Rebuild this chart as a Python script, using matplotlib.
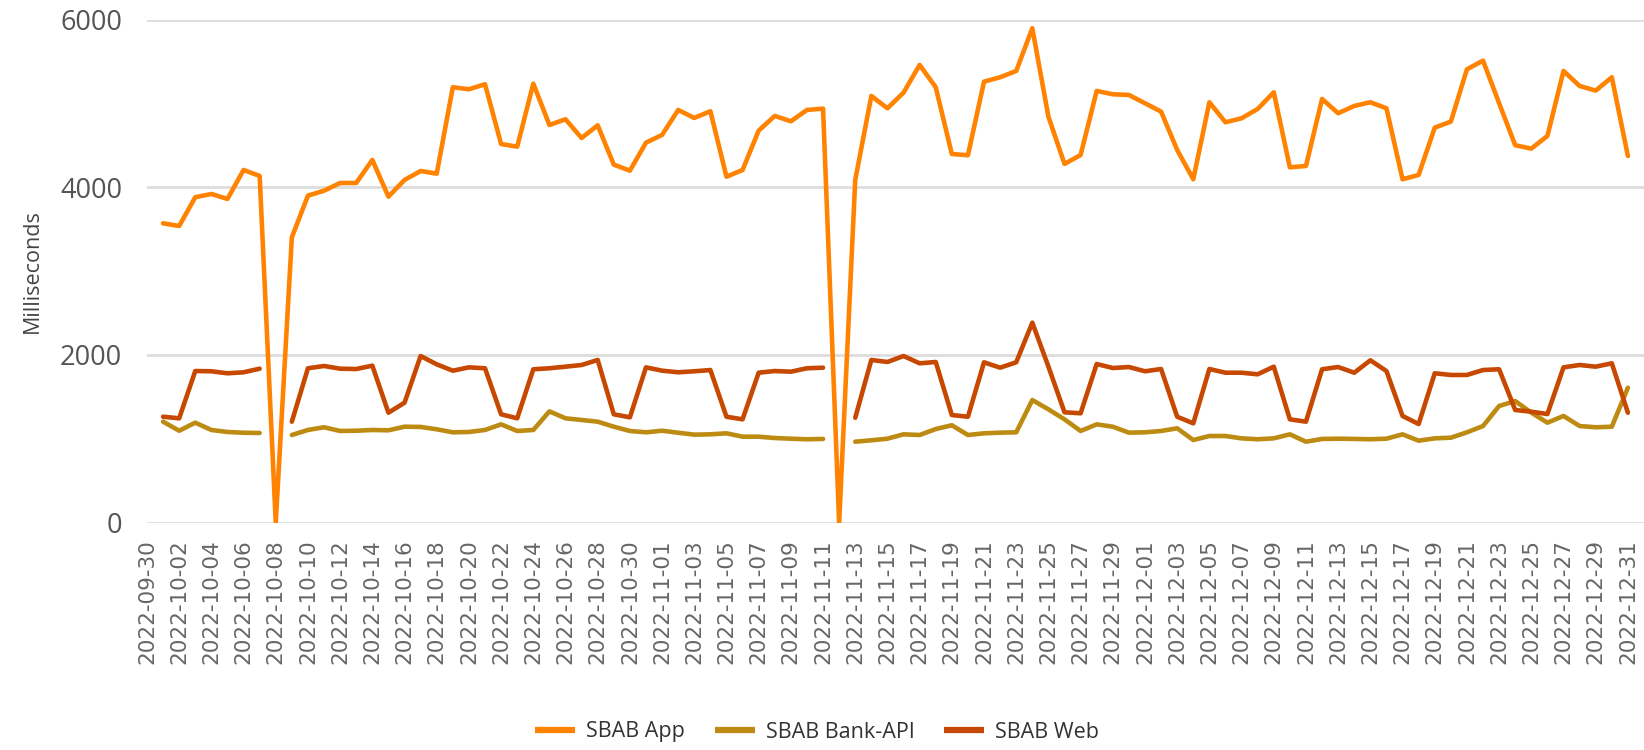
import numpy as np
import pandas as pd
import matplotlib
matplotlib.use("Agg")
import matplotlib.pyplot as plt

nan = np.nan

# daily response time, 2022-10-01 .. 2022-12-31
dates = pd.date_range("2022-10-01", "2022-12-31", freq="D")

app = [
    # oct
    3569, 3537, 3880, 3919, 3860, 4205, 4134, 0, 3402, 3899, 3958, 4050, 4050, 4325, 3887, 4086,
    4193, 4161, 5192, 5168, 5228, 4515, 4483, 5235, 4742, 4810, 4587, 4738, 4269, 4197, 4531,
    # nov
    4623, 4921, 4826, 4906, 4125, 4205, 4674, 4850, 4786, 4921, 4937, 0, 4086, 5088, 4941,
    5128, 5458, 5192, 4396, 4381, 5259, 5311, 5386, 5896, 4841, 4277, 4384, 5148, 5108, 5100,
    # dec
    5001, 4901, 4444, 4094, 5013, 4774, 4822, 4933, 5132, 4237, 4253, 5052, 4882, 4969, 5013,
    4941, 4094, 4146, 4710, 4782, 5406, 5509, 5001, 4500, 4460, 4611, 5386, 5207, 5152, 5311, 4372,
]

bank_api = [
    1203, 1095, 1191, 1104, 1080, 1071, 1068, nan, 1044, 1104, 1136, 1092, 1095, 1104, 1100, 1143,
    1140, 1112, 1076, 1080, 1104, 1171, 1092, 1104, 1326, 1243, 1223, 1203, 1143, 1092, 1076,
    1095, 1071, 1048, 1052, 1064, 1024, 1024, 1008, 1000, 993, 997, nan, 964, 981, 1000,
    1052, 1044, 1115, 1160, 1044, 1064, 1072, 1076, 1461, 1350, 1231, 1092, 1171, 1143, 1072,
    1076, 1092, 1124, 984, 1032, 1032, 1004, 993, 1004, 1052, 964, 997, 1000, 997, 993,
    1000, 1052, 976, 1004, 1012, 1076, 1151, 1390, 1449, 1310, 1191, 1271, 1151, 1136, 1143, 1608,
]

web = [
    1262, 1243, 1807, 1804, 1780, 1792, 1835, nan, 1203, 1840, 1867, 1835, 1831, 1871, 1310, 1429,
    1986, 1887, 1811, 1851, 1840, 1291, 1243, 1828, 1840, 1859, 1879, 1939, 1291, 1255, 1851,
    1811, 1792, 1804, 1819, 1262, 1231, 1787, 1807, 1799, 1840, 1847, nan, 1250, 1939, 1915,
    1986, 1899, 1915, 1282, 1262, 1911, 1847, 1911, 2384, 1860, 1315, 1303, 1891, 1843, 1855,
    1804, 1831, 1262, 1183, 1831, 1787, 1787, 1768, 1859, 1231, 1203, 1828, 1855, 1787, 1935,
    1807, 1271, 1175, 1780, 1760, 1760, 1819, 1828, 1342, 1322, 1294, 1851, 1879, 1859, 1899, 1310,
]

series = [("SBAB App", app, "#ff8300"),
          ("SBAB Bank-API", bank_api, "#bd8b12"),
          ("SBAB Web", web, "#c74800")]

fig = plt.figure(figsize=(16.44, 7.5), dpi=100)
ax = fig.add_axes([0.0894, 0.3033, 0.9106, 0.6707])

for name, vals, col in series:
    ax.plot(dates, vals, color=col, lw=3.3, label=name,
            solid_joinstyle="round", solid_capstyle="round")

start = pd.Timestamp("2022-09-30")
ax.set_xlim(start, start + pd.Timedelta(days=93))
ax.set_ylim(0, 6000)
ax.set_yticks([0, 2000, 4000, 6000])
ticks = pd.date_range(start, "2022-12-31", freq="2D")
ax.set_xticks(ticks)
ax.set_xticklabels([t.strftime("%Y-%m-%d") for t in ticks], rotation=90,
                   fontsize=15.5, color="#666666", family="DejaVu Sans")
ax.tick_params(axis="x", length=0, pad=12)
ax.tick_params(axis="y", length=0, pad=18, labelsize=19.5, labelcolor="#555555")
for lab in ax.get_yticklabels():
    lab.set_family("Open Sans")

ax.grid(axis="y", color="#dddddd", lw=2)
ax.set_axisbelow(True)
for s in ax.spines.values():
    s.set_visible(False)

ax.set_ylabel("Milliseconds", fontsize=15.5, color="#444444", family="Open Sans", labelpad=12)

leg = fig.legend(loc="center", bbox_to_anchor=(0.497, 0.024), ncol=3, frameon=False,
                 prop={"family": "Open Sans", "size": 15.5}, handlelength=1.86,
                 handletextpad=0.5, columnspacing=1.4, labelcolor="#333333")
for h in leg.get_lines():
    h.set_linewidth(4.5)
    h.set_solid_capstyle("butt")

fig.savefig("out.png", dpi=100)
